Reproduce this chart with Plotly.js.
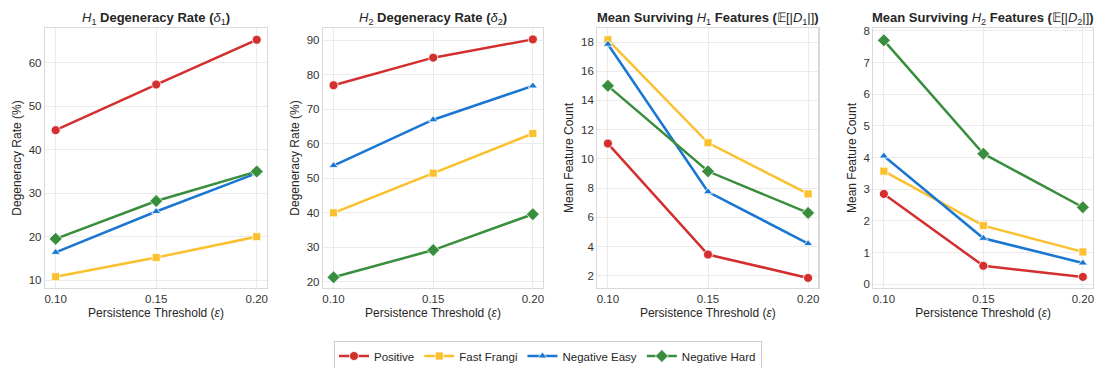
<!DOCTYPE html>
<html><head><meta charset="utf-8">
<script src="https://cdn.plot.ly/plotly-3.0.1.min.js"></script>
<style>html,body{margin:0;padding:0;background:#fff;}#c{width:1096px;height:368px;}</style>
</head><body><div id="c"></div>
<script>
const thresholds = [0.10, 0.15, 0.20];
const seriesNames = ["Positive", "Fast Frangi", "Negative Easy", "Negative Hard"];
const colors = ["#D32F2F", "#FBC02D", "#1976D2", "#388E3C"];
const symbols = ["circle", "square", "triangle-up", "diamond"];

// H1 degeneracy rate (%)
const h1Degeneracy = {
  "Positive": [44.5, 55.0, 65.3],
  "Fast Frangi": [10.8, 15.2, 20.0],
  "Negative Easy": [16.4, 25.8, 34.6],
  "Negative Hard": [19.5, 28.2, 35.0]
};
// H2 degeneracy rate (%)
const h2Degeneracy = {
  "Positive": [77.0, 85.0, 90.3],
  "Fast Frangi": [40.0, 51.5, 63.0],
  "Negative Easy": [53.7, 67.0, 76.8],
  "Negative Hard": [21.3, 29.2, 39.6]
};
// Mean surviving H1 features
const h1Features = {
  "Positive": [11.05, 3.45, 1.85],
  "Fast Frangi": [18.15, 11.1, 7.6],
  "Negative Easy": [17.85, 7.75, 4.2],
  "Negative Hard": [15.0, 9.15, 6.3]
};
// Mean surviving H2 features
const h2Features = {
  "Positive": [2.85, 0.58, 0.23],
  "Fast Frangi": [3.57, 1.85, 1.02],
  "Negative Easy": [4.05, 1.45, 0.67],
  "Negative Hard": [7.7, 4.12, 2.43]
};

const panelTitles = [
  "<i>H</i><sub>1</sub><b> Degeneracy Rate (</b><i>δ</i><sub>1</sub><b>)</b>",
  "<i>H</i><sub>2</sub><b> Degeneracy Rate (</b><i>δ</i><sub>2</sub><b>)</b>",
  "<b>Mean Surviving </b><i>H</i><sub>1</sub><b> Features (</b>𝔼[|<i>D</i><sub>1</sub>|]<b>)</b>",
  "<b>Mean Surviving </b><i>H</i><sub>2</sub><b> Features (</b>𝔼[|<i>D</i><sub>2</sub>|]<b>)</b>"
];
const yTitles = ["Degeneracy Rate (%)", "Degeneracy Rate (%)", "Mean Feature Count", "Mean Feature Count"];
const xTitle = "Persistence Threshold (<i>ε</i>)";
const xTickVals = [0.10, 0.15, 0.20];
const xTickText = ["0.10", "0.15", "0.20"];

const panels = [h1Degeneracy, h2Degeneracy, h1Features, h2Features];
const yRanges = [[8.2, 68], [18.2, 93.6], [1.16, 18.96], [-0.12, 8.09]];
const yDtick = [10, 10, 2, 1];
const xDomains = [[45/1096, 267/1096], [323/1096, 543/1096], [597.3/1096, 818.3/1096], [873.3/1096, 1093/1096]];
const yDomain = [1 - 288/368, 1 - 28/368];

const font = "Liberation Sans, Arial, sans-serif";
const traces = [];
const layout = {
  width: 1096, height: 368,
  margin: {l: 0, r: 0, t: 0, b: 0, pad: 0, autoexpand: false},
  paper_bgcolor: "#fff", plot_bgcolor: "#fff",
  font: {family: font, color: "#262626", size: 11},
  showlegend: true,
  legend: {orientation: "h", x: 0.5, xanchor: "center", y: 1 - 356/368, yanchor: "middle",
    bordercolor: "#cccccc", borderwidth: 1, font: {size: 11.5, color: "#262626"},
    tracegroupgap: 0},
  annotations: []
};

panels.forEach((data, p) => {
  const ax = p === 0 ? "" : String(p + 1);
  seriesNames.forEach((name, s) => {
    traces.push({
      x: thresholds, y: data[name], name: name,
      xaxis: "x" + ax, yaxis: "y" + ax,
      mode: "lines+markers", type: "scatter",
      line: {color: colors[s], width: 2.5},
      marker: {symbol: symbols[s], size: [9, 8, 8, 10][s], color: colors[s], line: {color: "#fff", width: 0.8}},
      showlegend: p === 0, legendgroup: name
    });
  });
  layout["xaxis" + ax] = {
    domain: xDomains[p], anchor: "y" + ax, range: [0.0947, 0.2051],
    tickvals: xTickVals, ticktext: xTickText, automargin: false,
    showgrid: true, gridcolor: "#ebebeb", gridwidth: 1,
    showline: true, linecolor: "#d9d9d9", linewidth: 1.2, mirror: true,
    zeroline: false, ticks: "", ticklen: 0,
    tickfont: {size: 11.5, color: "#333"},
    title: {text: xTitle, font: {size: 12, color: "#262626"}, standoff: 4}
  };
  layout["yaxis" + ax] = {
    domain: yDomain, anchor: "x" + ax, range: yRanges[p], dtick: yDtick[p], automargin: false,
    showgrid: true, gridcolor: "#ebebeb", gridwidth: 1,
    showline: true, linecolor: "#d9d9d9", linewidth: 1.2, mirror: true,
    zeroline: false, ticks: "",
    tickfont: {size: 11.5, color: "#333"},
    title: {text: yTitles[p], font: {size: 12, color: "#262626"}, standoff: 4}
  };
  layout.annotations.push({
    text: panelTitles[p], xref: "paper", yref: "paper",
    x: (xDomains[p][0] + xDomains[p][1]) / 2, xanchor: "center",
    y: 1 - 19/368, yanchor: "middle", showarrow: false,
    font: {size: 13, color: "#262626"}
  });
});

Plotly.newPlot("c", traces, layout, {displayModeBar: false, staticPlot: true});
</script>
</body></html>
